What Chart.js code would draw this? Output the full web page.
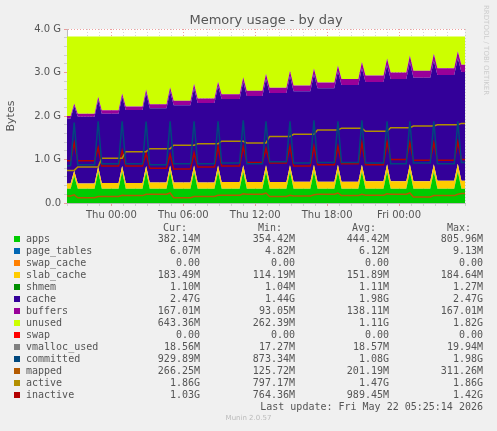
<!DOCTYPE html>
<html lang="en">
<head>
<meta charset="UTF-8">
<title>Memory usage - by day</title>
<script src="https://cdn.jsdelivr.net/npm/chart.js@4"></script>
<style>
  body { margin: 0; background: #f0f0f0; width: 497px; height: 431px; position: relative; overflow: hidden; }
  #wrap { position: absolute; left: 0; top: 0; width: 497px; height: 225px; }
  .t { position: absolute; font: 10px "DejaVu Sans Mono", monospace; color: #555; white-space: pre; line-height: 12px; }
  .r { text-align: right; }
  .sw { position: absolute; width: 6px; height: 6px; }
</style>
</head>
<body>
<div id="wrap"><canvas id="memChart" width="497" height="225"></canvas></div>
<div id="legend"></div>

<script>
// hours relative to Thu 00:00
const times = [-3.7, -3.4,-3.1,-2.8, -1.4,-1.1,-0.8, 0.6,0.9,1.2, 2.6,2.9,3.2, 4.6,4.9,5.2, 6.6,6.9,7.2,
  8.6,8.9,9.2, 10.7,11,11.3, 12.6,12.9,13.2, 14.6,14.9,15.2, 16.6,16.9,17.2, 18.6,18.9,19.2, 20.6,20.9,21.2,
  22.7,23,23.3, 24.6,24.9,25.2, 26.6,26.9,27.2, 28.6,28.9,29.2, 29.5];

// GB values
const apps = [0.33, 0.33,0.62,0.33, 0.33,0.72,0.33, 0.33,0.72,0.33, 0.33,0.72,0.33, 0.33,0.72,0.33, 0.33,0.72,0.33,
  0.33,0.72,0.33, 0.33,0.72,0.33, 0.33,0.72,0.33, 0.33,0.72,0.33, 0.33,0.72,0.33, 0.33,0.72,0.33, 0.33,0.72,0.33,
  0.33,0.72,0.33, 0.33,0.72,0.33, 0.33,0.72,0.33, 0.33,0.72,0.33, 0.33];
const slabCache = [0.12, 0.12,0.12,0.12, 0.12,0.12,0.13, 0.13,0.13,0.13, 0.13,0.13,0.14, 0.14,0.14,0.14, 0.14,0.14,0.14,
  0.14,0.14,0.15, 0.15,0.15,0.15, 0.15,0.15,0.15, 0.15,0.15,0.16, 0.16,0.16,0.16, 0.16,0.16,0.16, 0.16,0.16,0.17,
  0.17,0.17,0.17, 0.17,0.17,0.17, 0.17,0.17,0.18, 0.18,0.18,0.18, 0.18];
const cache = [1.49, 1.49,1.49,1.53, 1.53,1.53,1.59, 1.59,1.59,1.68, 1.68,1.68,1.71, 1.71,1.71,1.78, 1.78,1.78,1.83,
  1.83,1.83,1.91, 1.91,1.91,1.98, 1.98,1.98,2.05, 2.05,2.05,2.08, 2.08,2.08,2.15, 2.15,2.15,2.22, 2.22,2.22,2.28,
  2.28,2.28,2.35, 2.35,2.35,2.38, 2.38,2.38,2.43, 2.43,2.43,2.50, 2.50];
const buffers = [0.06, 0.06,0.06,0.07, 0.07,0.07,0.08, 0.08,0.08,0.08, 0.08,0.08,0.09, 0.09,0.09,0.10, 0.10,0.10,0.10,
  0.10,0.10,0.11, 0.11,0.11,0.12, 0.12,0.12,0.12, 0.12,0.12,0.13, 0.13,0.13,0.13, 0.13,0.13,0.14, 0.14,0.14,0.15,
  0.15,0.15,0.15, 0.15,0.15,0.16, 0.16,0.16,0.16, 0.16,0.16,0.17, 0.17];
const unused = [1.83, 1.83,1.54,1.78, 1.78,1.39,1.70, 1.70,1.31,1.61, 1.61,1.22,1.56, 1.56,1.17,1.48, 1.48,1.09,1.43,
  1.43,1.04,1.33, 1.33,0.94,1.25, 1.25,0.86,1.18, 1.18,0.79,1.13, 1.13,0.74,1.06, 1.06,0.67,0.98, 0.98,0.59,0.90,
  0.90,0.51,0.83, 0.83,0.44,0.79, 0.79,0.40,0.73, 0.73,0.34,0.65, 0.65];
const committed = [0.85, 0.86,1.85,0.88, 0.88,1.88,0.9, 0.9,1.88,0.9, 0.9,1.87,0.88, 0.88,1.88,0.9, 0.9,1.88,0.9,
  0.9,1.88,0.92, 0.92,1.9,0.9, 0.9,1.88,0.95, 0.95,1.88,0.92, 0.92,1.9,0.93, 0.93,1.88,0.93, 0.93,1.9,0.92,
  0.92,1.88,0.9, 0.9,1.88,0.92, 0.92,1.88,0.9, 0.9,1.88,0.93, 0.93];
const mapped = [0.16, 0.16,0.19,0.12, 0.12,0.15,0.15, 0.15,0.18,0.17, 0.17,0.2,0.2, 0.2,0.23,0.12, 0.12,0.15,0.15,
  0.15,0.18,0.18, 0.18,0.21,0.2, 0.2,0.23,0.15, 0.15,0.18,0.16, 0.16,0.19,0.2, 0.2,0.23,0.17, 0.17,0.2,0.18,
  0.18,0.21,0.2, 0.2,0.23,0.14, 0.14,0.17,0.17, 0.17,0.2,0.22, 0.22];
const active = [0.75, 0.75,0.75,0.83, 0.83,0.83,1.03, 1.03,1.03,1.18, 1.18,1.18,1.25, 1.25,1.25,1.33, 1.33,1.33,1.36,
  1.36,1.36,1.42, 1.42,1.42,1.38, 1.38,1.38,1.53, 1.53,1.53,1.58, 1.58,1.58,1.68, 1.68,1.68,1.72, 1.72,1.72,1.65,
  1.65,1.65,1.73, 1.73,1.73,1.77, 1.77,1.77,1.80, 1.80,1.80,1.83, 1.83];
const inactive = [0.97, 0.97,1.38,0.97, 0.97,1.27,0.85, 0.85,1.2,0.85, 0.85,1.15,0.8, 0.8,1.12,0.78, 0.78,1.15,0.83,
  0.83,1.3,0.85, 0.85,1.3,0.93, 0.93,1.25,0.92, 0.92,1.3,0.85, 0.85,1.3,0.88, 0.88,1.3,0.9, 0.9,1.38,0.88,
  0.88,1.4,1.0, 1.0,1.38,0.98, 0.98,1.38,0.98, 0.98,1.4,1.0, 1.0];

const xTickLabels = { 0: 'Thu 00:00', 6: 'Thu 06:00', 12: 'Thu 12:00', 18: 'Thu 18:00', 24: 'Fri 00:00' };
const yTickLabels = { 0: '0.0', 1: '1.0 G', 2: '2.0 G', 3: '3.0 G', 4: '4.0 G' };

const legendNames = ['apps','page_tables','swap_cache','slab_cache','shmem','cache','buffers','unused','swap','vmalloc_used','committed','mapped','active','inactive'];
const legendColors = ['#00CC00','#0066B3','#FF8000','#FFCC00','#008F00','#330099','#990099','#CCFF00','#FF0000','#808080','#00487D','#B35A00','#B38F00','#B30000'];
const curVals = ['382.14M','6.07M','0.00','183.49M','1.10M','2.47G','167.01M','643.36M','0.00','18.56M','929.89M','266.25M','1.86G','1.03G'];
const minVals = ['354.42M','4.82M','0.00','114.19M','1.04M','1.44G','93.05M','262.39M','0.00','17.27M','873.34M','125.72M','797.17M','764.36M'];
const avgVals = ['444.42M','6.12M','0.00','151.89M','1.11M','1.98G','138.11M','1.11G','0.00','18.57M','1.08G','201.19M','1.47G','989.45M'];
const maxVals = ['805.96M','9.13M','0.00','184.64M','1.27M','2.47G','167.01M','1.82G','0.00','19.94M','1.98G','311.26M','1.86G','1.42G'];

const pts = arr => arr.map((v, i) => ({ x: times[i], y: v }));
const area = (label, arr, color, fill) => ({
  label, data: pts(arr), backgroundColor: color, borderColor: color, borderWidth: 0,
  fill, pointRadius: 0, stack: 'mem', order: 2
});
const line = (label, arr, color) => ({
  label, data: pts(arr), borderColor: color, borderWidth: 1.5, fill: false,
  pointRadius: 0, stack: label, order: 1
});

const decor = {
  id: 'decor',
  beforeDraw(c) {
    const g = c.ctx, a = c.chartArea;
    g.save();
    g.fillStyle = '#fff';
    g.fillRect(a.left, a.top, a.right - a.left, a.bottom - a.top);
    g.restore();
  },
  afterDraw(c) {
    const g = c.ctx;
    g.save();
    g.fillStyle = '#555';
    g.font = '13px "DejaVu Sans"';
    g.textAlign = 'center';
    g.fillText('Memory usage - by day', 266, 24);
    g.font = '11px "DejaVu Sans"';
    g.translate(14, 116);
    g.rotate(-Math.PI / 2);
    g.fillText('Bytes', 0, 0);
    g.restore();
    g.save();
    g.fillStyle = '#ccc';
    g.font = '7px "DejaVu Sans"';
    g.translate(484, 5);
    g.rotate(Math.PI / 2);
    g.fillText('RRDTOOL / TOBI OETIKER', 0, 0);
    g.restore();
  }
};

const gridColor = (ctx, step) => {
  const v = ctx.tick ? ctx.tick.value : 0;
  return Math.abs(v / step - Math.round(v / step)) < 1e-6 ? 'rgba(230,120,120,0.7)' : 'rgba(180,180,180,0.55)';
};

new Chart(document.getElementById('memChart'), {
  type: 'line',
  data: {
    datasets: [
      area('apps', apps, '#00CC00', 'origin'),
      area('slab_cache', slabCache, '#FFCC00', '-1'),
      area('cache', cache, '#330099', '-1'),
      area('buffers', buffers, '#990099', '-1'),
      area('unused', unused, '#CCFF00', '-1'),
      line('committed', committed, '#00487D'),
      line('mapped', mapped, '#B35A00'),
      line('active', active, '#B38F00'),
      line('inactive', inactive, '#B30000')
    ]
  },
  options: {
    responsive: false,
    animation: false,
    layout: { padding: { top: 29, right: 32, left: 0, bottom: 0 } },
    elements: { line: { tension: 0 } },
    plugins: { legend: { display: false }, tooltip: { enabled: false } },
    scales: {
      x: {
        type: 'linear', min: -3.7, max: 29.5, z: 1,
        afterFit: s => { s.height = 22; },
        ticks: {
          stepSize: 1, autoSkip: false, maxRotation: 0, color: '#555',
          font: { family: 'DejaVu Sans', size: 10 },
          callback: v => xTickLabels[v] || ''
        },
        grid: { color: ctx => gridColor(ctx, 6), tickLength: 3 },
        border: { dash: [1, 2], color: '#bbb' }
      },
      y: {
        stacked: true, min: 0, max: 4, z: 1,
        afterFit: s => { s.width = 67; },
        ticks: {
          stepSize: 0.2, autoSkip: false, color: '#555',
          font: { family: 'DejaVu Sans', size: 10 },
          callback: v => yTickLabels[Math.round(v * 10) / 10] || ''
        },
        grid: { color: ctx => gridColor(ctx, 1), tickLength: 3 },
        border: { dash: [1, 2], color: '#bbb' }
      }
    }
  },
  plugins: [decor]
});

// text legend table
const leg = document.getElementById('legend');
const addText = (txt, left, top, right) => {
  const d = document.createElement('div');
  d.className = 't' + (right ? ' r' : '');
  d.textContent = txt;
  d.style.top = top + 'px';
  if (right) { d.style.right = (497 - left) + 'px'; } else { d.style.left = left + 'px'; }
  leg.appendChild(d);
};
addText('Cur:', 187, 222, true);
addText('Min:', 282, 222, true);
addText('Avg:', 376, 222, true);
addText('Max:', 471, 222, true);
legendNames.forEach((n, i) => {
  const top = 233 + i * 12;
  const sw = document.createElement('div');
  sw.className = 'sw';
  sw.style.background = legendColors[i];
  sw.style.left = '14px';
  sw.style.top = (top + 3) + 'px';
  leg.appendChild(sw);
  addText(n, 26, top);
  addText(curVals[i], 200, top, true);
  addText(minVals[i], 295, top, true);
  addText(avgVals[i], 389, top, true);
  addText(maxVals[i], 483, top, true);
});
addText('Last update: Fri May 22 05:25:14 2026', 483, 401, true);
const mun = document.createElement('div');
mun.textContent = 'Munin 2.0.57';
mun.style.cssText = 'position:absolute;left:0;width:497px;text-align:center;top:414px;font:7px "DejaVu Sans";color:#bbb;';
leg.appendChild(mun);
</script>
</body>
</html>
